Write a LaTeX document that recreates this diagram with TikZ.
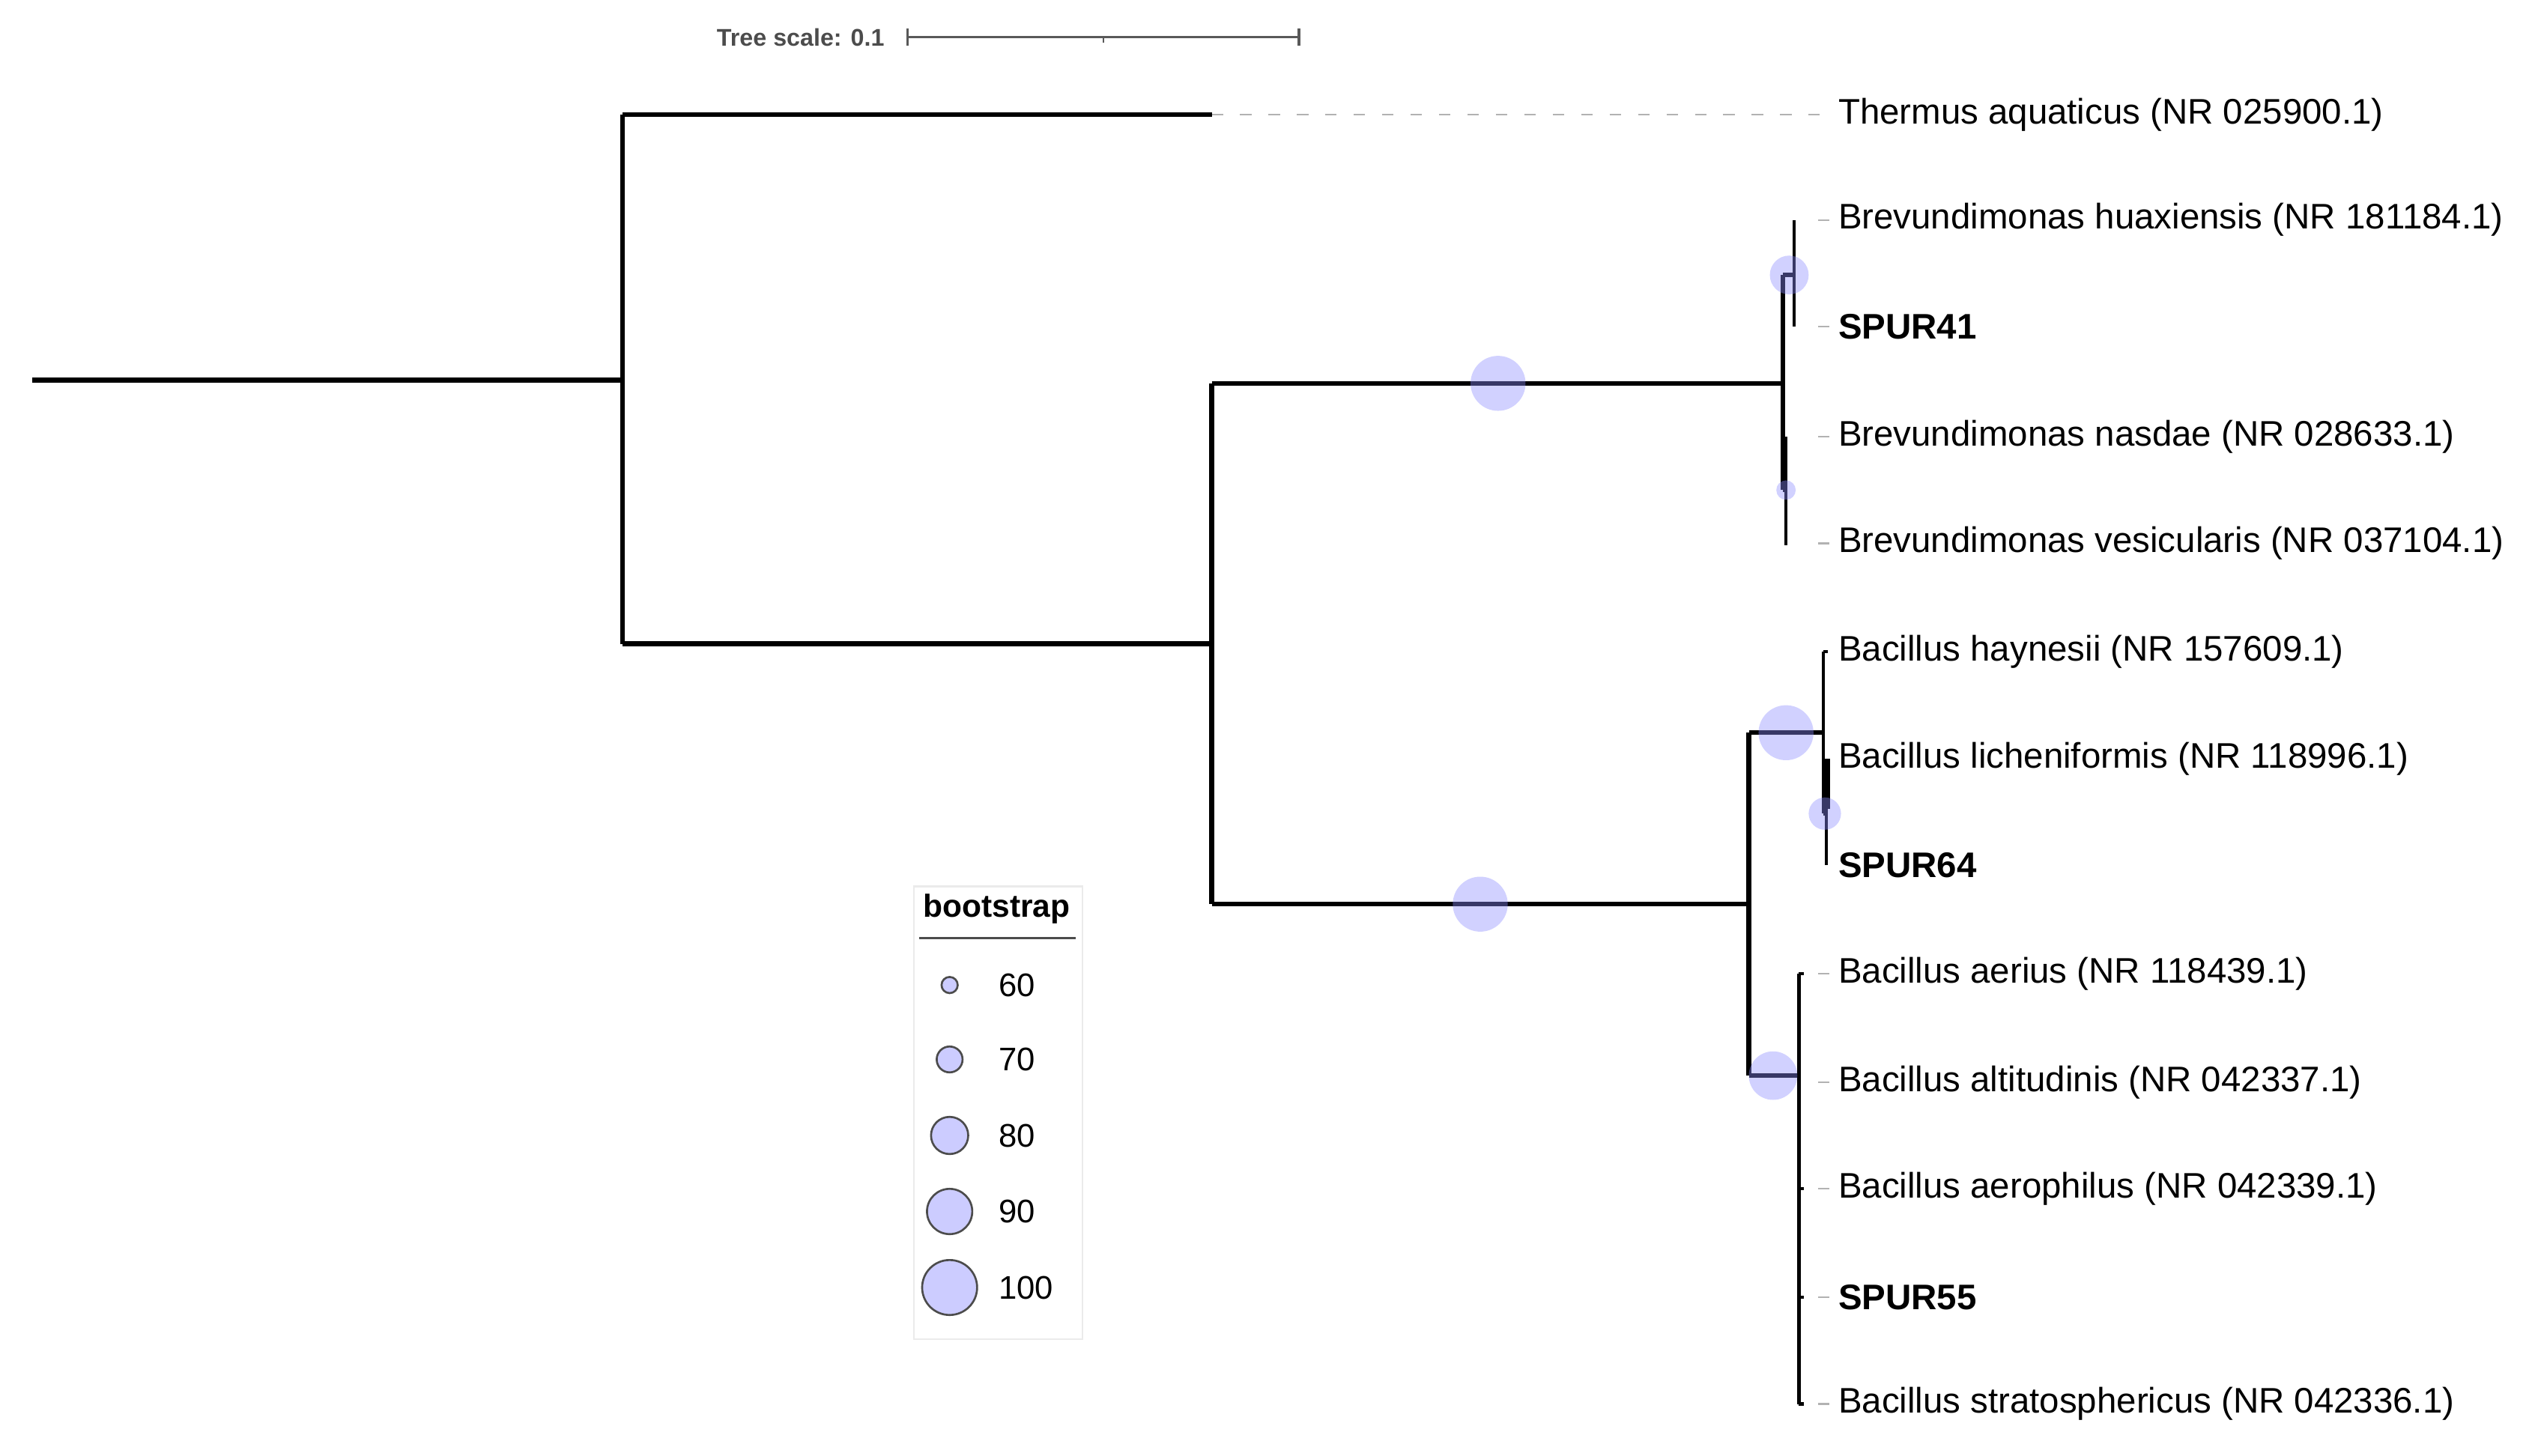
\documentclass[tikz,border=0pt]{standalone}
\usepackage{fontspec}
\setmainfont{Liberation Sans}
\begin{document}
\begin{tikzpicture}[x=0.02cm,y=-0.02cm,
  br/.style={line width=1.6pt,line cap=square},
  thin br/.style={line width=1.1pt},
  lead/.style={gray!60,line width=0.6pt},
  bs/.style={circle,fill=blue!45!white,fill opacity=0.4,draw=none,inner sep=0pt,minimum size=#1*0.04cm},
  lab/.style={anchor=west,inner sep=0pt,font=\fontsize{12.5}{14}\selectfont},
  blab/.style={lab,font=\fontsize{12.5}{14}\selectfont\bfseries},
  lg/.style={circle,draw=black!70,line width=0.7pt,fill=blue!20,inner sep=0pt,minimum size=#1*0.04cm},
  lgt/.style={anchor=west,inner sep=0pt,font=\fontsize{11.5}{13}\selectfont}]
\useasboundingbox (0,0) rectangle (1567,900);
% scale bar
\node[anchor=east,inner sep=0pt,text=black!70,font=\fontsize{8.5}{10}\selectfont\bfseries] (ts) at (547,23) {Tree scale: 0.1};
\coordinate (s0) at (561,23); \coordinate (s1) at (803,23); \coordinate (sm) at (682,23);
\draw[black!65,line width=0.9pt] (s0) -- (s1);
\draw[black!65,line width=0.9pt] ([yshift=-3]s0) -- ([yshift=3]s0) ([yshift=-3]s1) -- ([yshift=3]s1);
\draw[black!65,line width=0.5pt] (sm) -- ([yshift=-2]sm);
% coordinates
\coordinate (r) at (20,235); \coordinate (A) at (385,235);
\coordinate (At) at (385,71); \coordinate (Ab) at (385,398);
\coordinate (th) at (749,71);
\coordinate (B) at (749,398); \coordinate (Bt) at (749,237); \coordinate (Bb) at (749,559);
\coordinate (Br) at (1102,237); \coordinate (Brt) at (1102,170); \coordinate (Brb) at (1102,303);
\coordinate (S1) at (1109,170); \coordinate (S1t) at (1109,136); \coordinate (S1b) at (1109,202);
\coordinate (S2) at (1104,303); \coordinate (S2t) at (1104,270); \coordinate (S2b) at (1104,337);
\coordinate (C) at (1081,559); \coordinate (Ct) at (1081,453); \coordinate (Cb) at (1081,665);
\coordinate (D) at (1127,453); \coordinate (Dt) at (1127,403); \coordinate (Db) at (1127,503);
\coordinate (E) at (1129,503); \coordinate (Et) at (1129,469); \coordinate (Eb) at (1129,535);
\coordinate (F) at (1112,665); \coordinate (Ft) at (1112,602); \coordinate (Fb) at (1112,868);
% branches
\draw[br] (r) -- (A); \draw[br] (At) -- (Ab);
\draw[br] (At) -- (th);
\draw[lead,dash pattern=on 4pt off 6pt] (th) -- (1130,71);
\draw[br] (Ab) -- (B); \draw[br] (Bt) -- (Bb);
\draw[br] (Bt) -- (Br); \draw[br] (Brt) -- (Brb);
\draw[br] (Brt) -- (S1); \draw[thin br] (S1t) -- (S1b);
\draw[br] (Brb) -- (S2); \draw[thin br] (S2t) -- (S2b);
\draw[br] (Bb) -- (C); \draw[br] (Ct) -- (Cb);
\draw[br] (Ct) -- (D); \draw[thin br] (Dt) -- (Db);
\draw[thin br] (Dt) -- ++(3,0);
\draw[br] (Db) -- (E); \draw[thin br] (Et) -- (Eb); \draw[line width=2.4pt] (1129,469) -- (1129,500);
\draw[br] (Cb) -- (F); \draw[thin br] (Ft) -- (Fb);
% bootstrap circles
\node[bs=17] (b1) at (926,237) {};
\node[bs=12] (b2) at (1106,170) {};
\node[bs=6] (b3) at (1104,303) {};
\node[bs=17] (b4) at (915,559) {};
\node[bs=17] (b5) at (1104,453) {};
\node[bs=10] (b6) at (1128,503) {};
\node[bs=15] (b7) at (1096,665) {};
% leader ticks
\foreach \y in {136,202,270,336,602,669,735,802,868}
  \draw[lead] (1124,\y) -- (1131,\y);
\foreach \y in {735,802,868,602} \draw[thin br] (1112,\y) -- (1115,\y);
% labels
\node[lab] (l1) at (1136,71) {Thermus aquaticus (NR 025900.1)};
\node[lab] (l2) at (1136,136) {Brevundimonas huaxiensis (NR 181184.1)};
\node[blab] (l3) at (1136,202) {SPUR41};
\node[lab] (l4) at (1136,270) {Brevundimonas nasdae (NR 028633.1)};
\node[lab] (l5) at (1136,336) {Brevundimonas vesicularis (NR 037104.1)};
\node[lab] (l6) at (1136,403) {Bacillus haynesii (NR 157609.1)};
\node[lab] (l7) at (1136,469) {Bacillus licheniformis (NR 118996.1)};
\node[blab] (l8) at (1136,535) {SPUR64};
\node[lab] (l9) at (1136,602) {Bacillus aerius (NR 118439.1)};
\node[lab] (l10) at (1136,669) {Bacillus altitudinis (NR 042337.1)};
\node[lab] (l11) at (1136,735) {Bacillus aerophilus (NR 042339.1)};
\node[blab] (l12) at (1136,802) {SPUR55};
\node[lab] (l13) at (1136,868) {Bacillus stratosphericus (NR 042336.1)};
% legend
\node[draw=black!8,line width=0.6pt,minimum width=104*0.02cm,minimum height=280*0.02cm,inner sep=0pt] (leg) at (617,688) {};
\node[inner sep=0pt,font=\fontsize{11.2}{13}\selectfont\bfseries] (lt) at (616,562) {bootstrap};
\coordinate (u0) at (568,580); \coordinate (u1) at (665,580);
\draw[black!70,line width=1pt] (u0) -- (u1);
\node[lg=5] (c60) at (587,609) {}; \node[lgt] at (617,609) {60};
\node[lg=8] (c70) at (587,655) {}; \node[lgt] at (617,655) {70};
\node[lg=11.5] (c80) at (587,702) {}; \node[lgt] at (617,702) {80};
\node[lg=14] (c90) at (587,749) {}; \node[lgt] at (617,749) {90};
\node[lg=17] (c100) at (587,796) {}; \node[lgt] at (617,796) {100};
\end{tikzpicture}
\end{document}
